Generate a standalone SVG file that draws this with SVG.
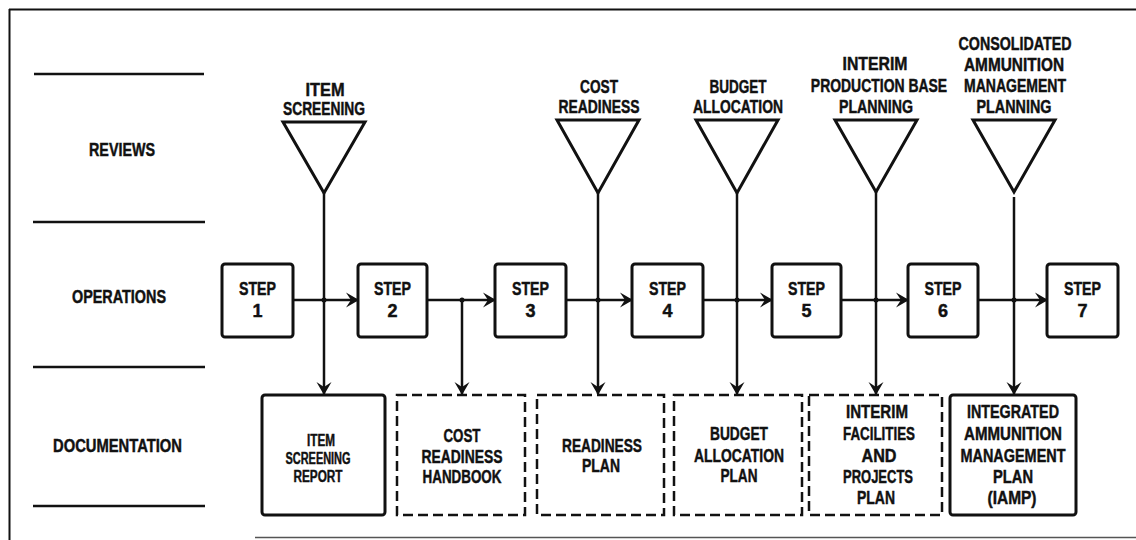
<svg xmlns="http://www.w3.org/2000/svg" width="1136" height="540" viewBox="0 0 1136 540">
<style>
  text { font-family: "Liberation Sans", Arial, sans-serif; font-weight: bold; font-size: 18px; fill: #111; stroke: #111; stroke-width: 0.45; text-anchor: middle; }
  .doc text { font-size: 18px; }
  #doc-item-screening-report text { font-size: 16px; }
  .frame { stroke: #111; stroke-width: 2; fill: none; }
  .rule { stroke: #111; stroke-width: 2.5; fill: none; }
  .tri { stroke: #111; stroke-width: 3; fill: #fff; stroke-linejoin: miter; }
  .box { stroke: #111; stroke-width: 3; fill: #fff; }
  .dash { stroke: #111; stroke-width: 2.5; fill: #fff; stroke-dasharray: 10 5; }
  .conn { stroke: #111; stroke-width: 2.5; fill: none; }
  .dot { fill: #111; }
</style>
<defs>
  <marker id="arr" markerUnits="userSpaceOnUse" viewBox="-14 -9 16 18" markerWidth="16" markerHeight="18" refX="0" refY="0" orient="auto">
    <path d="M1,0 L-12,-7.5 L-7,0 L-12,7.5 Z" fill="#111"/>
  </marker>
</defs>
<rect width="1136" height="540" fill="#fff"/>

<g id="frame">
  <line class="frame" x1="9" y1="9.5" x2="1136" y2="9.5"/>
  <line class="frame" x1="9.5" y1="9" x2="9.5" y2="540"/>
  <line x1="255" y1="537.5" x2="1136" y2="537.5" stroke="#555" stroke-width="1.5"/>
</g>

<g id="lanes">
  <line class="rule" x1="34" y1="74" x2="204" y2="74"/>
  <line class="rule" x1="33" y1="222" x2="205" y2="222"/>
  <line class="rule" x1="33" y1="367" x2="205" y2="367"/>
  <line class="rule" x1="33" y1="506" x2="205" y2="506"/>
  <text x="122" y="156" textLength="66" lengthAdjust="spacingAndGlyphs">REVIEWS</text>
  <text x="119" y="303" textLength="94" lengthAdjust="spacingAndGlyphs">OPERATIONS</text>
  <text x="117.5" y="452" textLength="129" lengthAdjust="spacingAndGlyphs">DOCUMENTATION</text>
</g>

<g id="connectors">
  <line class="conn" x1="293" y1="300" x2="358" y2="300" marker-end="url(#arr)"/>
  <line class="conn" x1="427" y1="300" x2="495" y2="300" marker-end="url(#arr)"/>
  <line class="conn" x1="566" y1="300" x2="632" y2="300" marker-end="url(#arr)"/>
  <line class="conn" x1="703" y1="300" x2="772" y2="300" marker-end="url(#arr)"/>
  <line class="conn" x1="841" y1="300" x2="908" y2="300" marker-end="url(#arr)"/>
  <line class="conn" x1="978" y1="300" x2="1047" y2="300" marker-end="url(#arr)"/>
  <line class="conn" x1="324" y1="193" x2="324" y2="394" marker-end="url(#arr)"/>
  <line class="conn" x1="462" y1="300" x2="462" y2="394" marker-end="url(#arr)"/>
  <line class="conn" x1="598" y1="193" x2="598" y2="394" marker-end="url(#arr)"/>
  <line class="conn" x1="737" y1="193" x2="737" y2="394" marker-end="url(#arr)"/>
  <line class="conn" x1="876" y1="192" x2="876" y2="394" marker-end="url(#arr)"/>
  <line class="conn" x1="1014" y1="197" x2="1014" y2="394" marker-end="url(#arr)"/>
  <circle class="dot" cx="324" cy="300" r="2.5"/>
  <circle class="dot" cx="462" cy="300" r="2.5"/>
  <circle class="dot" cx="598" cy="300" r="2.5"/>
  <circle class="dot" cx="737" cy="300" r="2.5"/>
  <circle class="dot" cx="876" cy="300" r="2.5"/>
  <circle class="dot" cx="1014" cy="300" r="2.5"/>
</g>

<g id="review-item-screening">
  <polygon class="tri" points="283,122 365,122 324,193"/>
  <text x="325" y="96" textLength="39" lengthAdjust="spacingAndGlyphs">ITEM</text>
  <text x="324" y="115" textLength="82" lengthAdjust="spacingAndGlyphs">SCREENING</text>
</g>
<g id="review-cost-readiness">
  <polygon class="tri" points="557,120 639,120 598,193"/>
  <text x="599" y="93" textLength="38" lengthAdjust="spacingAndGlyphs">COST</text>
  <text x="599" y="113" textLength="81" lengthAdjust="spacingAndGlyphs">READINESS</text>
</g>
<g id="review-budget-allocation">
  <polygon class="tri" points="696,120 778,120 737,193"/>
  <text x="738" y="93" textLength="57" lengthAdjust="spacingAndGlyphs">BUDGET</text>
  <text x="738" y="113" textLength="90" lengthAdjust="spacingAndGlyphs">ALLOCATION</text>
</g>
<g id="review-interim">
  <polygon class="tri" points="835,120 917,120 876,192"/>
  <text x="875" y="70" textLength="65" lengthAdjust="spacingAndGlyphs">INTERIM</text>
  <text transform="translate(879,92) scale(0.775,1)" x="0" y="0">PRODUCTION BASE</text>
  <text x="876" y="113" textLength="74" lengthAdjust="spacingAndGlyphs">PLANNING</text>
</g>
<g id="review-consolidated">
  <polygon class="tri" points="973,120 1055,120 1014,192"/>
  <text x="1015" y="50" textLength="113" lengthAdjust="spacingAndGlyphs">CONSOLIDATED</text>
  <text x="1014" y="71" textLength="100" lengthAdjust="spacingAndGlyphs">AMMUNITION</text>
  <text transform="translate(1015,92) scale(0.78,1)" x="0" y="0">MANAGEMENT</text>
  <text x="1014" y="113" textLength="75" lengthAdjust="spacingAndGlyphs">PLANNING</text>
</g>

<g id="step1"><rect class="box" x="222" y="264" width="71" height="73" rx="3"/>
  <text x="257.5" y="295" textLength="37" lengthAdjust="spacingAndGlyphs">STEP</text><text x="257.5" y="317">1</text></g>
<g id="step2"><rect class="box" x="358" y="264" width="69" height="73" rx="3"/>
  <text x="392.5" y="295" textLength="37" lengthAdjust="spacingAndGlyphs">STEP</text><text x="392.5" y="317">2</text></g>
<g id="step3"><rect class="box" x="495" y="264" width="71" height="73" rx="3"/>
  <text x="530.5" y="295" textLength="37" lengthAdjust="spacingAndGlyphs">STEP</text><text x="530.5" y="317">3</text></g>
<g id="step4"><rect class="box" x="632" y="264" width="71" height="73" rx="3"/>
  <text x="667.5" y="295" textLength="37" lengthAdjust="spacingAndGlyphs">STEP</text><text x="667.5" y="317">4</text></g>
<g id="step5"><rect class="box" x="772" y="264" width="69" height="73" rx="3"/>
  <text x="806.5" y="295" textLength="37" lengthAdjust="spacingAndGlyphs">STEP</text><text x="806.5" y="317">5</text></g>
<g id="step6"><rect class="box" x="908" y="264" width="70" height="73" rx="3"/>
  <text x="943" y="295" textLength="37" lengthAdjust="spacingAndGlyphs">STEP</text><text x="943" y="317">6</text></g>
<g id="step7"><rect class="box" x="1047" y="264" width="71" height="73" rx="3"/>
  <text x="1082.5" y="295" textLength="37" lengthAdjust="spacingAndGlyphs">STEP</text><text x="1082.5" y="317">7</text></g>

<g id="doc-item-screening-report" class="doc">
  <rect class="box" x="262" y="395" width="123" height="120" rx="3"/>
  <text x="321" y="446" textLength="28" lengthAdjust="spacingAndGlyphs">ITEM</text>
  <text x="318" y="464" textLength="65" lengthAdjust="spacingAndGlyphs">SCREENING</text>
  <text x="318" y="482" textLength="49" lengthAdjust="spacingAndGlyphs">REPORT</text>
</g>
<g id="doc-cost-readiness-handbook" class="doc">
  <rect class="dash" x="397" y="395" width="128" height="120"/>
  <text x="462" y="442" textLength="37" lengthAdjust="spacingAndGlyphs">COST</text>
  <text x="462" y="463" textLength="81" lengthAdjust="spacingAndGlyphs">READINESS</text>
  <text x="462" y="483" textLength="79" lengthAdjust="spacingAndGlyphs">HANDBOOK</text>
</g>
<g id="doc-readiness-plan" class="doc">
  <rect class="dash" x="537" y="395" width="127" height="120"/>
  <text x="602" y="452" textLength="80" lengthAdjust="spacingAndGlyphs">READINESS</text>
  <text x="601" y="472" textLength="38" lengthAdjust="spacingAndGlyphs">PLAN</text>
</g>
<g id="doc-budget-allocation-plan" class="doc">
  <rect class="dash" x="674" y="395" width="128" height="120"/>
  <text x="739" y="440" textLength="58" lengthAdjust="spacingAndGlyphs">BUDGET</text>
  <text x="739" y="462" textLength="90" lengthAdjust="spacingAndGlyphs">ALLOCATION</text>
  <text x="739" y="482" textLength="37" lengthAdjust="spacingAndGlyphs">PLAN</text>
</g>
<g id="doc-interim-facilities" class="doc">
  <rect class="dash" x="809" y="395" width="133" height="120"/>
  <text x="877" y="418" textLength="62" lengthAdjust="spacingAndGlyphs">INTERIM</text>
  <text x="879" y="440" textLength="72" lengthAdjust="spacingAndGlyphs">FACILITIES</text>
  <text x="879" y="462" textLength="35" lengthAdjust="spacingAndGlyphs">AND</text>
  <text x="878" y="483" textLength="70" lengthAdjust="spacingAndGlyphs">PROJECTS</text>
  <text x="876" y="504" textLength="38" lengthAdjust="spacingAndGlyphs">PLAN</text>
</g>
<g id="doc-iamp" class="doc">
  <rect class="box" x="950" y="395" width="126" height="120" rx="3"/>
  <text x="1013" y="418" textLength="92" lengthAdjust="spacingAndGlyphs">INTEGRATED</text>
  <text x="1013" y="440" textLength="98" lengthAdjust="spacingAndGlyphs">AMMUNITION</text>
  <text x="1013" y="462" textLength="105" lengthAdjust="spacingAndGlyphs">MANAGEMENT</text>
  <text x="1013" y="483" textLength="40" lengthAdjust="spacingAndGlyphs">PLAN</text>
  <text x="1012" y="504" textLength="49" lengthAdjust="spacingAndGlyphs">(IAMP)</text>
</g>
</svg>
